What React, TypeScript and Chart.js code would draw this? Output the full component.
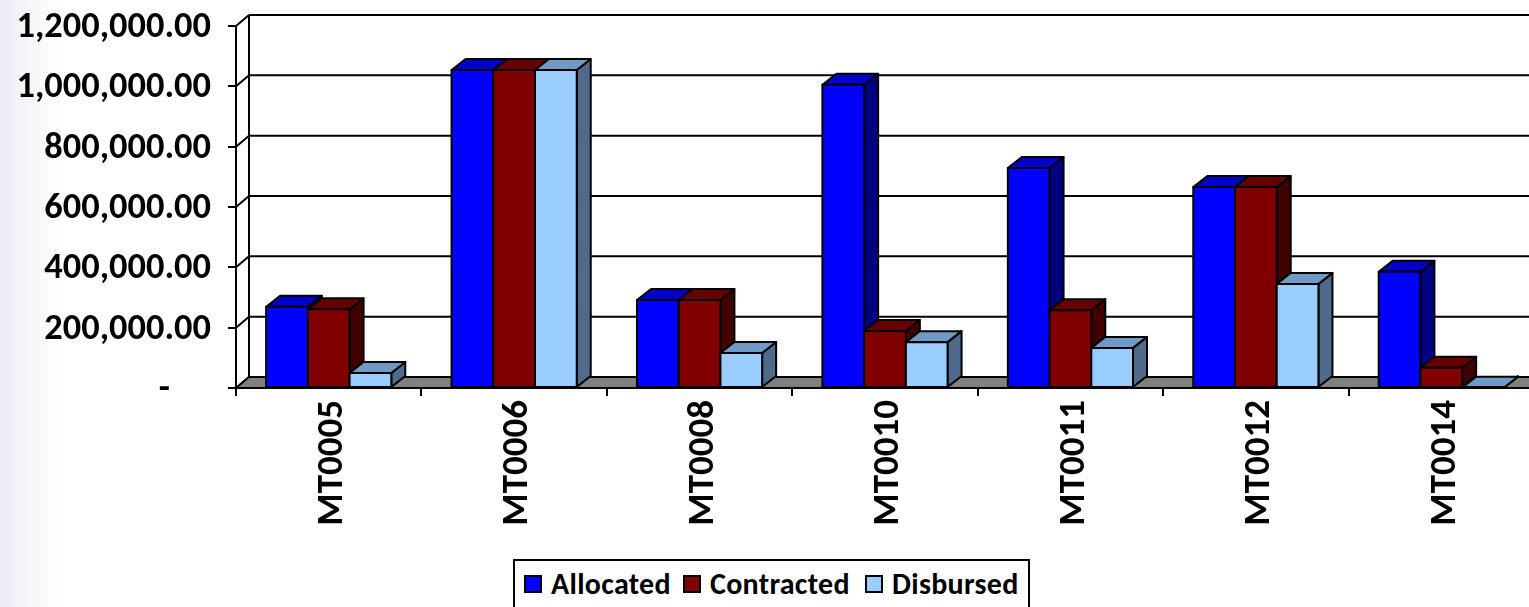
import React, { useEffect, useRef } from "react";
import { Chart, registerables } from "chart.js";
Chart.register(...registerables);

const categories = ["MT0005", "MT0006", "MT0008", "MT0010", "MT0011", "MT0012", "MT0014"];
const allocated = [269000, 1054000, 292000, 1005000, 729000, 666000, 385000];
const contracted = [261000, 1054000, 292000, 189000, 258000, 666000, 67000];
const disbursed = [50000, 1054000, 116000, 152000, 133000, 345000, 1000];
const yTicks = [0, 200000, 400000, 600000, 800000, 1000000, 1200000];
const seriesNames = ["Allocated", "Contracted", "Disbursed"];
const faceColors = ["#0000FF", "#800000", "#99CCFF"];
const topColors = ["#0000C8", "#660000", "#6F9AC6"];
const sideColors = ["#000080", "#400000", "#4F6A8A"];
const FONT = "Calibri, Carlito, 'Open Sans', Lato, sans-serif";
const DX = 14, DY = 11;

const fmt = (v: number) =>
  v === 0 ? "-     " : v.toLocaleString("en-US", { minimumFractionDigits: 2, maximumFractionDigits: 2 });

const depthPlugin = {
  id: "depth",
  beforeDatasetsDraw(chart: any) {
    const { ctx, chartArea: a, scales } = chart;
    const y0 = scales.y.getPixelForValue(0);
    const yTop = scales.y.getPixelForValue(1200000);
    ctx.save();
    ctx.lineWidth = 2;
    ctx.strokeStyle = "#000";
    ctx.beginPath();
    yTicks.forEach((t) => {
      const y = scales.y.getPixelForValue(t) - DY;
      ctx.moveTo(a.left + DX - 1, y);
      ctx.lineTo(1540, y);
    });
    ctx.moveTo(a.left + DX - 1, yTop - DY);
    ctx.lineTo(a.left + DX - 1, y0 - DY);
    ctx.stroke();
    ctx.beginPath();
    yTicks.forEach((t) => {
      const y = scales.y.getPixelForValue(t);
      ctx.moveTo(a.left, y);
      ctx.lineTo(a.left + DX - 1, y - DY);
    });
    ctx.stroke();
    ctx.fillStyle = "#808080";
    ctx.beginPath();
    ctx.moveTo(a.left, y0);
    ctx.lineTo(a.left + DX - 1, y0 - DY);
    ctx.lineTo(1540, y0 - DY);
    ctx.lineTo(1540, y0);
    ctx.closePath();
    ctx.fill();
    ctx.stroke();
    ctx.beginPath();
    ctx.moveTo(a.left, yTop);
    ctx.lineTo(a.left, y0);
    ctx.lineTo(1540, y0);
    ctx.stroke();
    ctx.restore();
  },
  afterDatasetsDraw(chart: any) {
    const { ctx } = chart;
    ctx.save();
    ctx.lineWidth = 2;
    ctx.strokeStyle = "#000";
    ctx.lineJoin = "round";
    const n = categories.length;
    for (let i = 0; i < n; i++) {
      for (let d = 0; d < 3; d++) {
        const bar = chart.getDatasetMeta(d).data[i];
        const l = bar.x - bar.width / 2, r = bar.x + bar.width / 2;
        const t = bar.y, b = bar.base;
        ctx.fillStyle = sideColors[d];
        ctx.beginPath();
        ctx.moveTo(r, t); ctx.lineTo(r + DX, t - DY); ctx.lineTo(r + DX, b - DY); ctx.lineTo(r, b);
        ctx.closePath(); ctx.fill(); ctx.stroke();
        ctx.fillStyle = topColors[d];
        ctx.beginPath();
        ctx.moveTo(l, t); ctx.lineTo(l + DX, t - DY); ctx.lineTo(r + DX, t - DY); ctx.lineTo(r, t);
        ctx.closePath(); ctx.fill(); ctx.stroke();
        ctx.fillStyle = faceColors[d];
        ctx.fillRect(l, t, r - l, b - t);
        ctx.strokeRect(l, t, r - l, b - t);
      }
    }
    ctx.restore();
  },
};

export default function App() {
  const ref = useRef<HTMLCanvasElement>(null);
  useEffect(() => {
    const chart = new Chart(ref.current!, {
      type: "bar",
      data: {
        labels: categories,
        datasets: [allocated, contracted, disbursed].map((data, i) => ({
          label: seriesNames[i],
          data,
          backgroundColor: faceColors[i],
          borderColor: "#000",
          borderWidth: 1,
          categoryPercentage: 0.675,
          barPercentage: 1,
        })),
      },
      options: {
        animation: false,
        responsive: false,
        maintainAspectRatio: false,
        layout: { padding: { left: 0, right: 0, top: 26, bottom: 0 } },
        plugins: {
          tooltip: { enabled: false },
          legend: { display: false },
        },
        scales: {
          x: {
            grid: { display: true, drawOnChartArea: false, drawTicks: true, tickLength: 8, color: "#000", lineWidth: 2 },
            border: { display: true, color: "#000", width: 2 },
            ticks: {
              minRotation: 90, maxRotation: 90, color: "#000",
              font: { family: FONT, size: 37, weight: "bold" },
              padding: 4,
              labelOffset: 4,
              autoSkip: false,
            },
            afterFit: (s: any) => { s.height = 169; s.paddingLeft = 0; s.paddingRight = 0; },
          },
          y: {
            min: 0, max: 1200000,
            afterBuildTicks: (s: any) => { s.ticks = yTicks.map((value) => ({ value })); },
            grid: { display: true, drawOnChartArea: false, drawTicks: true, tickLength: 8, color: "#000", lineWidth: 2 },
            border: { display: true, color: "#000", width: 2 },
            ticks: {
              color: "#000",
              font: { family: FONT, size: 36.4, weight: "bold" },
              padding: 17,
              labelOffset: 2,
              callback: (v: any) => fmt(Number(v)),
            },
            afterFit: (s: any) => { s.width = 236; s.paddingTop = 0; s.paddingBottom = 0; },
          },
        },
      },
      plugins: [depthPlugin],
    });
    return () => chart.destroy();
  }, []);
  const swatchLefts = [11, 170, 352];
  return (
    <div style={{ position: "fixed", inset: 0, width: 1529, height: 607, overflow: "hidden",
      background: "linear-gradient(90deg,#ecedf4 0,#f8f8fb 35px,#fff 65px)" }}>
      <canvas ref={ref} width={1534} height={557} style={{ position: "absolute", left: 0, top: 0, width: 1534, height: 557 }} />
      <div style={{ position: "absolute", left: 513, top: 559, width: 517, height: 48, boxSizing: "border-box",
        border: "2px solid #000", borderBottom: "none", background: "#fff", fontFamily: FONT, fontWeight: 700,
        fontSize: 30, color: "#000" }}>
        {seriesNames.map((n, i) => (
          <span key={n} style={{ position: "absolute", left: swatchLefts[i] - 2, top: 4, display: "inline-flex",
            alignItems: "center", gap: 9, whiteSpace: "nowrap", letterSpacing: 0.3, lineHeight: "38px" }}>
            <span style={{ width: 18, height: 18, background: faceColors[i], border: "2px solid #000", boxSizing: "border-box" }} />
            {n}
          </span>
        ))}
      </div>
    </div>
  );
}
